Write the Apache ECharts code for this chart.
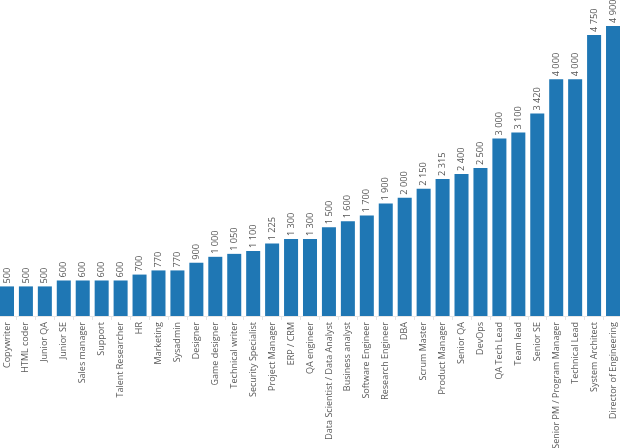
<!DOCTYPE html>
<html>
<head>
<meta charset="utf-8">
<style>html,body{margin:0;padding:0;background:#fff}#c{width:620px;height:448px}</style>
<script src="https://cdn.jsdelivr.net/npm/echarts@6/dist/echarts.min.js"></script>
</head>
<body>
<div id="c"></div>
<script>
const categories = ["Copywriter","HTML coder","Junior QA","Junior SE","Sales manager","Support","Talent Researcher","HR","Marketing","Sysadmin","Designer","Game designer","Technical writer","Security Specialist","Project Manager","ERP / CRM","QA engineer","Data Scientist / Data Analyst","Business analyst","Software Engineer","Research Engineer","DBA","Scrum Master","Product Manager","Senior QA","DevOps","QA Tech Lead","Team lead","Senior SE","Senior PM / Program Manager","Technical Lead","System Architect","Director of Engineering"];
const salaries = [500,500,500,600,600,600,600,700,770,770,900,1000,1050,1100,1225,1300,1300,1500,1600,1700,1900,2000,2150,2315,2400,2500,3000,3100,3420,4000,4000,4750,4900];

function fmt(v){ return String(v).replace(/\B(?=(\d{3})+(?!\d))/g, ' '); }

const chart = echarts.init(document.getElementById('c'), null, {renderer:'canvas'});
chart.setOption({
  animation:false,
  textStyle:{fontFamily:'"Open Sans", sans-serif'},
  grid:{left:-2.5, right:-2.5, top:26, bottom:132, containLabel:false, outerBoundsMode:'none'},
  xAxis:{
    type:'category', data:categories,
    axisLine:{show:true, lineStyle:{color:'#e6e6e6'}},
    axisTick:{show:true, length:4, lineStyle:{color:'#e6e6e6'}},
    axisLabel:{rotate:90, interval:0, margin:6, fontSize:9, color:'#5a5a5a', fontFamily:'"Open Sans", sans-serif'}
  },
  yAxis:{type:'value', min:0, max:4900, show:false, splitLine:{show:false}},
  series:[{
    type:'bar', data:salaries, barCategoryGap:'26%',
    itemStyle:{color:'#1f77b4'},
    label:{show:true, position:'top', rotate:90, align:'left', verticalAlign:'middle', distance:3,
      fontSize:9.2, color:'#555', fontFamily:'"Open Sans", sans-serif',
      formatter:p=>fmt(p.value)}
  }]
});
</script>
</body>
</html>
